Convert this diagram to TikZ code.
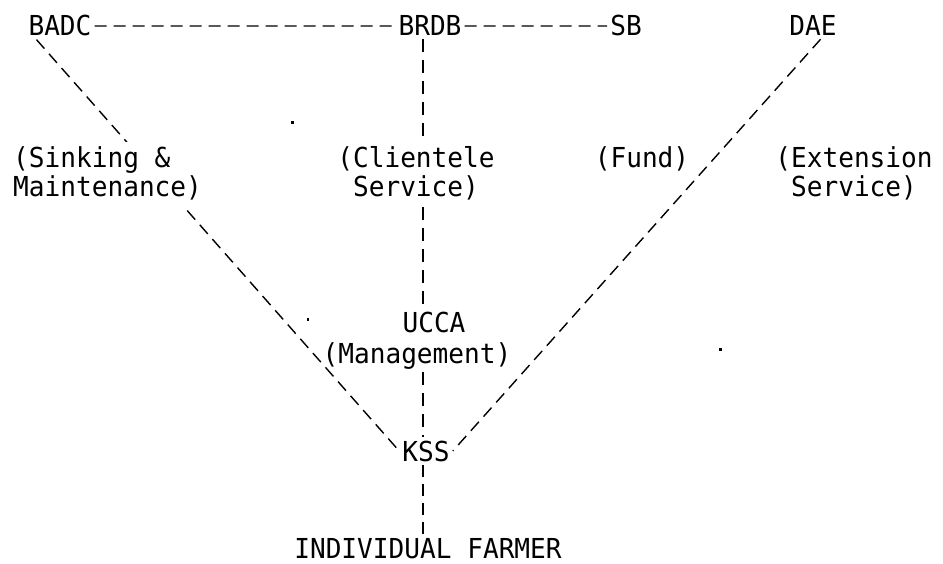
\documentclass[tikz,border=0pt]{standalone}
\usepackage{fontspec}
\newfontfamily\typer[FakeStretch=0.95]{DejaVu Sans Mono}
\usetikzlibrary{backgrounds}
\begin{document}
\begin{tikzpicture}[x=1pt,y=-1pt,
  lbl/.style={font=\typer\fontsize{27.5}{29}\selectfont, inner sep=3pt, anchor=base},
  cover/.style={lbl, fill=white, inner ysep=5pt},
  link/.style={line width=1.4pt, dash pattern=on 12pt off 7pt},
  spine/.style={line width=1.6pt, dash pattern=on 13pt off 8pt},
  heavy/.style={line width=2.6pt, dash pattern=on 12pt off 7pt},
  speck/.style={fill=black}
]
\useasboundingbox (0,0) rectangle (943,564);

% top row of agencies
\node[lbl] (badc) at (60,36) {BADC};
\node[lbl] (brdb) at (430,36) {BRDB};
\node[lbl] (sb)   at (626,36) {SB};
\node[lbl] (dae)  at (813,36) {DAE};

% roles (two-line labels set as one block each; placed by the last baseline)
\node[cover, align=left, anchor=base west] (sink) at (10,197) {(Sinking \&\\Maintenance)};
\node[cover, align=center] (cli) at (416,197) {(Clientele\\Service)};
\node[lbl] (fund) at (642,168) {(Fund)};
\node[lbl, align=center] (ext) at (854,197) {(Extension\\Service)};

% local level
\node[lbl] (ucca) at (434,332) {UCCA};
\node[lbl] (mgmt) at (417,363) {(Management)};
\node[lbl] (kss)  at (426,461) {KSS};
\node[lbl] (farmer) at (428,558) {INDIVIDUAL FARMER};

\coordinate (axis) at (423,0);

\begin{pgfonlayer}{background}
  % horizontal links among agencies
  \draw[link] (badc.east) -- (brdb.west);
  \draw[link] (brdb.east) -- (sb.west);
  % diagonals converging on KSS
  \draw[link] (badc.210) -- (kss.west);
  \draw[link] (dae.-60) -- (kss.east);
  % vertical chain through the clientele service
  \draw[spine] (brdb.south -| axis) -- (ucca.north -| axis);
  \draw[spine] (mgmt.south -| axis) -- (kss.north -| axis);
  \draw[heavy] (kss.south -| axis) -- (farmer.north -| axis);
\end{pgfonlayer}

% small specks
\fill[speck] (291,121) rectangle ++(3,3);
\fill[speck] (307,318) rectangle ++(2,3);
\fill[speck] (719,348) rectangle ++(3,3);
\end{tikzpicture}
\end{document}
